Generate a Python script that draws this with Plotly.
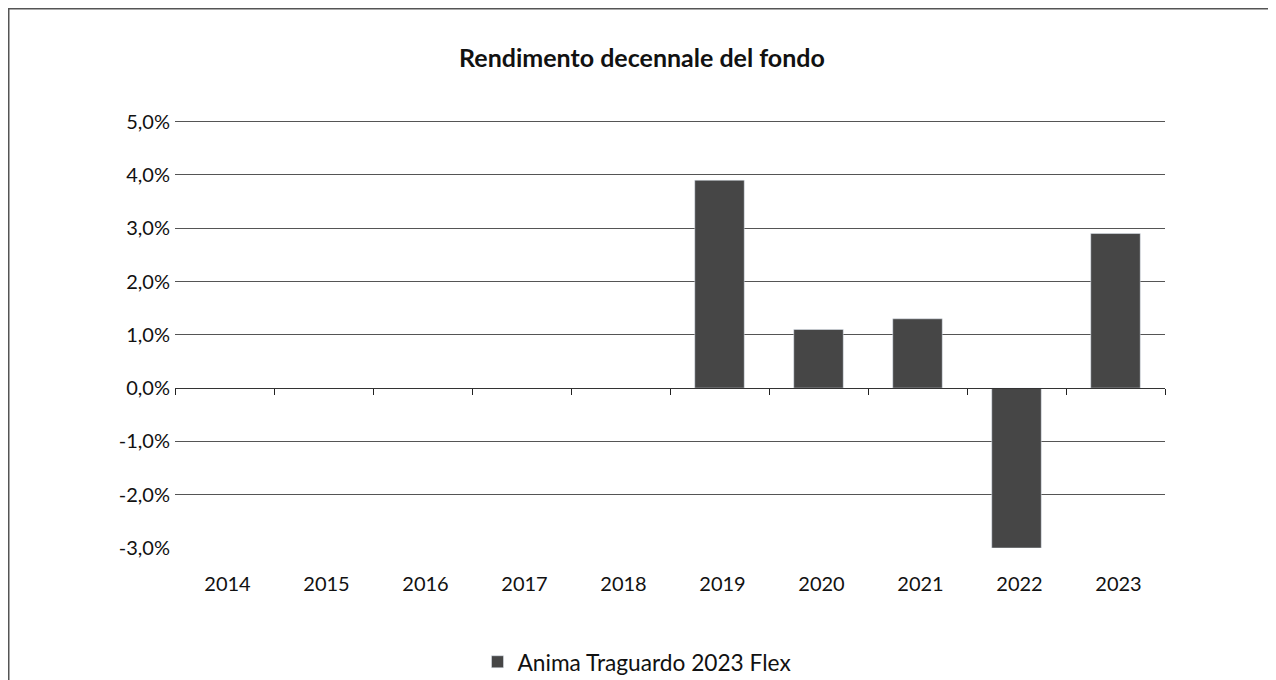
import plotly.graph_objects as go

years = ["2014", "2015", "2016", "2017", "2018", "2019", "2020", "2021", "2022", "2023"]
returns = [None, None, None, None, None, 3.9, 1.1, 1.3, -3.0, 2.9]
series_name = "Anima Traguardo 2023 Flex"
y_ticks = [-3, -2, -1, 0, 1, 2, 3, 4, 5]
y_ticktext = ["-3,0%", "-2,0%", "-1,0%", "0,0%", "1,0%", "2,0%", "3,0%", "4,0%", "5,0%"]
bar_color = "#464646"

# page body has an 8px default margin; figure is sized so the plot area lands
# at page x 175-1165, y 122-548 (range top slightly above 5 so its gridline shows)
Y_MIN, Y_MAX = -3, 5.03
UNIT = 426 / 8.0
W, H = 1268, 672
PW = 990
PH = UNIT * (Y_MAX - Y_MIN)
L = 167
T = (548 - 8) - PH
B = H - T - PH

fig = go.Figure()
fig.add_trace(go.Bar(x=years, y=returns, name=series_name, marker_color=bar_color,
                     showlegend=True))
fig.add_trace(go.Bar(x=years, y=[None]*len(years), xaxis="x2", showlegend=False,
                     hoverinfo="skip"))

def px_x(page_x):
    return (page_x - 8 - L) / PW

def px_y(page_y):
    return (T + PH - (page_y - 8)) / PH

x_range = [-0.5, len(years) - 0.5]

fig.update_layout(
    width=W, height=H,
    margin=dict(l=L, r=W - L - PW, t=T, b=B, pad=0, autoexpand=False),
    paper_bgcolor="white", plot_bgcolor="white",
    font=dict(family="Lato", size=20, color="#111111"),
    title=dict(text="Rendimento decennale del fondo", x=px_x(642), xref="paper",
               xanchor="center", y=1 - (58 - 8) / H, yref="container", yanchor="middle",
               font=dict(family="Lato", size=25, color="#111111", weight="bold")),
    bargap=0.5,
    showlegend=True,
    legend=dict(orientation="h", x=px_x(637), xanchor="center",
                y=(H - (662 - 8)) / H, yref="container",
                yanchor="middle", font=dict(size=22.7), itemwidth=30),
    xaxis=dict(range=x_range, showline=False, showgrid=False, ticks="",
               ticklabelstandoff=22, ticklabelshift=3, tickfont=dict(size=20)),
    xaxis2=dict(overlaying="x", anchor="free", position=(0 - Y_MIN) / (Y_MAX - Y_MIN),
                range=x_range, showline=True, linecolor="#333333", linewidth=1,
                ticks="outside", tickson="boundaries", ticklen=6, tickcolor="#222222",
                showticklabels=False, showgrid=False),
    yaxis=dict(range=[Y_MIN, Y_MAX], tickvals=y_ticks, ticktext=y_ticktext, showgrid=True,
               gridcolor="#555555", gridwidth=1, zeroline=False, showline=False,
               ticks="", ticklabelstandoff=4, tickfont=dict(size=20)),
    shapes=[dict(type="rect", xref="paper", yref="paper",
                 x0=px_x(8.75), x1=px_x(1275), y0=px_y(700), y1=px_y(9.25),
                 line=dict(color="#555555", width=1.5), layer="below")],
)

fig.write_html("out.html")
